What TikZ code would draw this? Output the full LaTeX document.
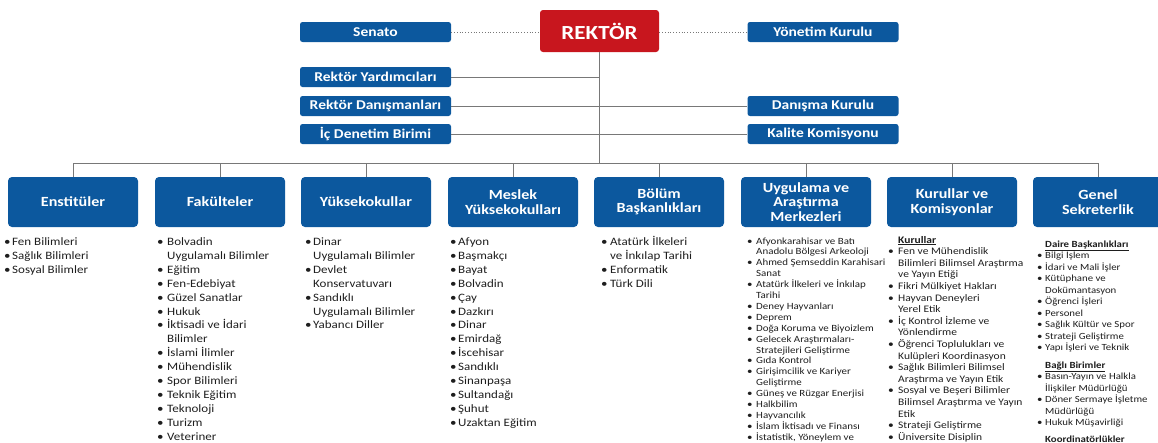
\documentclass[tikz,border=0pt]{standalone}
\usepackage{fontspec}
\setmainfont{Carlito}[FakeStretch=1.15]
\definecolor{orgblue}{RGB}{12,88,158}
\definecolor{orgred}{RGB}{200,22,30}
\definecolor{linegray}{RGB}{120,120,120}
\definecolor{textdark}{RGB}{30,30,30}
\newlength\bulletgap
\newcommand\itm[1]{\par\noindent\hangindent=\bulletgap\hangafter=1\makebox[\bulletgap][l]{\textbullet}#1}
\newcommand\listhead[1]{\par\noindent\hspace*{\bulletgap}\underline{\textbf{#1}}}
\newcommand\unitlist[4]{\begin{minipage}[t]{145pt}\raggedright\def\\{\newline}%
  \setlength\bulletgap{#1}\fontsize{#2}{#3}\selectfont#4\end{minipage}}
\begin{document}
\begin{tikzpicture}
[x=1pt, y=-1pt,
  headdecorate/.style={fill=orgred,rounded corners=3pt,minimum width=119pt,minimum height=42pt,
    inner sep=0pt,text=white,font=\bfseries\fontsize{20}{22}\selectfont},
  topdecorate/.style={fill=orgblue,rounded corners=2.5pt,minimum width=151pt,minimum height=20pt,
    inner sep=0pt,text=white,font=\bfseries\fontsize{13.5}{14}\selectfont},
  unitdecorate/.style={fill=orgblue,rounded corners=4pt,minimum width=130pt,minimum height=50pt,
    inner sep=0pt,text=white,align=center,font=\bfseries\fontsize{14}{14.5}\selectfont},
  listdecorate/.style={anchor=base west,inner sep=0pt,text=textdark},
  linedecorate/.style={-,draw=linegray,line width=0.9pt},
  dotdecorate/.style={-,draw=linegray,line width=0.8pt,dotted}]
\useasboundingbox (0,0) rectangle (1158,442);
\clip (0,0) rectangle (1158,442);
%% rector and the boxes beside it
\node (rektor) at (599.5,31) [headdecorate] {REKTÖR};
\foreach \nodename/\x/\y/\nodetext in {senato/375.5/32/Senato, yonetim/823/32/Yönetim Kurulu,
  yardimci/375.5/77/Rektör Yardımcıları, danisman/375.5/106/Rektör Danışmanları,
  denetim/375.5/134/İç Denetim Birimi, danisma/823/106/Danışma Kurulu,
  kalite/823/134/Kalite Komisyonu}
{
  \node (\nodename) at (\x,\y) [topdecorate] {\nodetext};
}
%% units
\foreach \nodename/\x/\nodetext in {enst/73/Enstitüler, fak/220/Fakülteler,
  yo/366/Yüksekokullar, myo/513/{Meslek\\Yüksekokulları},
  bolum/659/{Bölüm\\Başkanlıkları}, merkez/806/{Uygulama ve\\Araştırma\\Merkezleri},
  kurul/952/{Kurullar ve\\Komisyonlar}, genel/1098/{Genel\\Sekreterlik}}
{
  \node (\nodename) at (\x,202) [unitdecorate] {\nodetext};
}
\coordinate (bus) at (599.5,163);
%% edges or lines
\draw[dotdecorate] (senato.east) -- (senato.east -| rektor.west);
\draw[dotdecorate] (yonetim.west -| rektor.east) -- (yonetim.west);
\draw[linedecorate] (rektor.south) -- (bus);
\draw[linedecorate] (yardimci.east) -- (yardimci.east -| rektor.south);
\draw[linedecorate] (danisman.east) -- (danisma.west);
\draw[linedecorate] (denetim.east) -- (kalite.west);
\draw[linedecorate] (enst.north |- bus) -- (genel.north |- bus);
\foreach \nodename in {enst, fak, yo, myo, bolum, merkez, kurul, genel}
{
  \draw[linedecorate] (\nodename.north |- bus) -- (\nodename.north);
}
%% lists under the units
\node (enstlist) at (4,245.5) [listdecorate] {\unitlist{8pt}{11.3}{13.9}{%
  \itm{Fen Bilimleri}\itm{Sağlık Bilimleri}\itm{Sosyal Bilimler}}};
\node (faklist) at (157,245.5) [listdecorate] {\unitlist{10pt}{11.3}{13.9}{%
  \itm{Bolvadin\\Uygulamalı Bilimler}\itm{Eğitim}\itm{Fen-Edebiyat}\itm{Güzel Sanatlar}%
  \itm{Hukuk}\itm{İktisadi ve İdari\\Bilimler}\itm{İslami İlimler}\itm{Mühendislik}%
  \itm{Spor Bilimleri}\itm{Teknik Eğitim}\itm{Teknoloji}\itm{Turizm}\itm{Veteriner}}};
\node (yolist) at (305,245.5) [listdecorate] {\unitlist{8pt}{11.3}{13.9}{%
  \itm{Dinar\\Uygulamalı Bilimler}\itm{Devlet\\Konservatuvarı}%
  \itm{Sandıklı\\Uygulamalı Bilimler}\itm{Yabancı Diller}}};
\node (myolist) at (450,245.5) [listdecorate] {\unitlist{8pt}{11.3}{13.9}{%
  \itm{Afyon}\itm{Başmakçı}\itm{Bayat}\itm{Bolvadin}\itm{Çay}\itm{Dazkırı}\itm{Dinar}%
  \itm{Emirdağ}\itm{İscehisar}\itm{Sandıklı}\itm{Sinanpaşa}\itm{Sultandağı}\itm{Şuhut}%
  \itm{Uzaktan Eğitim}}};
\node (bolumlist) at (601,245.5) [listdecorate] {\unitlist{9pt}{11.3}{13.9}{%
  \itm{Atatürk İlkeleri\\ve İnkılap Tarihi}\itm{Enformatik}\itm{Türk Dili}}};
\node (merkezlist) at (747,244) [listdecorate] {\unitlist{9pt}{9.5}{10.9}{%
  \itm{Afyonkarahisar ve Batı\\Anadolu Bölgesi Arkeoloji}\itm{Ahmed Şemseddin Karahisari\\Sanat}%
  \itm{Atatürk İlkeleri ve İnkılap\\Tarihi}\itm{Deney Hayvanları}\itm{Deprem}%
  \itm{Doğa Koruma ve Biyoizlem}\itm{Gelecek Araştırmaları-\\Stratejileri Geliştirme}%
  \itm{Gıda Kontrol}\itm{Girişimcilik ve Kariyer\\Geliştirme}\itm{Güneş ve Rüzgar Enerjisi}%
  \itm{Halkbilim}\itm{Hayvancılık}\itm{İslam İktisadı ve Finansı}\itm{İstatistik, Yöneylem ve}}};
\node (kurullist) at (888,243) [listdecorate] {\unitlist{10pt}{10}{11.6}{%
  \listhead{Kurullar}\itm{Fen ve Mühendislik\\Bilimleri Bilimsel Araştırma\\ve Yayın Etiği}%
  \itm{Fikri Mülkiyet Hakları}\itm{Hayvan Deneyleri\\Yerel Etik}%
  \itm{İç Kontrol İzleme ve\\Yönlendirme}\itm{Öğrenci Toplulukları ve\\Kulüpleri Koordinasyon}%
  \itm{Sağlık Bilimleri Bilimsel\\Araştırma ve Yayın Etik}%
  \itm{Sosyal ve Beşeri Bilimler\\Bilimsel Araştırma ve Yayın\\Etik}%
  \itm{Strateji Geliştirme}\itm{Üniversite Disiplin}}};
\node (genellist) at (1037,247) [listdecorate] {\unitlist{8pt}{9.4}{11.5}{%
  \listhead{Daire Başkanlıkları}\itm{Bilgi İşlem}\itm{İdari ve Mali İşler}%
  \itm{Kütüphane ve\\Dokümantasyon}\itm{Öğrenci İşleri}\itm{Personel}%
  \itm{Sağlık Kültür ve Spor}\itm{Strateji Geliştirme}\itm{Yapı İşleri ve Teknik}%
  \par\vspace{6pt}\listhead{Bağlı Birimler}\itm{Basın-Yayın ve Halkla\\İlişkiler Müdürlüğü}%
  \itm{Döner Sermaye İşletme\\Müdürlüğü}\itm{Hukuk Müşavirliği}%
  \par\vspace{5pt}\listhead{Koordinatörlükler}}};
\end{tikzpicture}
\end{document}
